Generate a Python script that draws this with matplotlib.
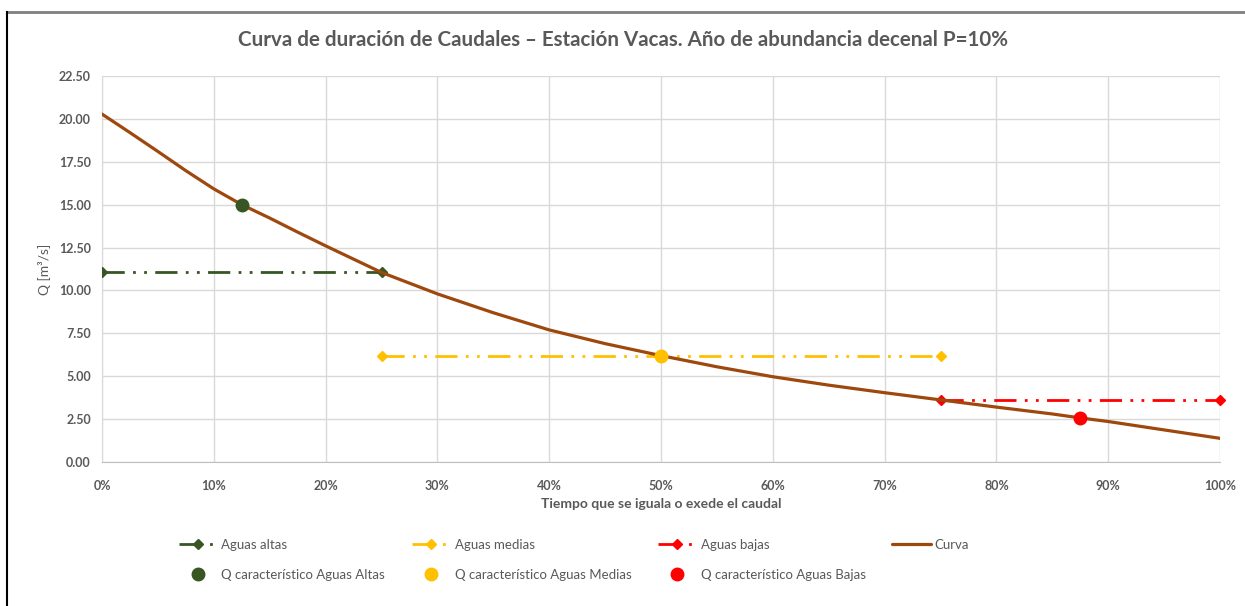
import matplotlib
matplotlib.use("Agg")
import matplotlib.pyplot as plt
from matplotlib.ticker import FuncFormatter, MultipleLocator
from matplotlib.legend_handler import HandlerLine2D
from matplotlib.lines import Line2D

plt.rcParams['font.family'] = ['Lato', 'DejaVu Sans']

# Data
curve_x = [0, 2.5, 5, 7.5, 10, 12.5, 15, 17.5, 20, 25, 30, 35, 40, 45, 50, 55, 60, 65, 70, 75, 80, 85, 87.5, 90, 95, 100]
curve_y = [20.28, 19.2, 18.1, 16.98, 15.92, 15.0, 14.22, 13.4, 12.6, 11.05, 9.8, 8.7, 7.7, 6.9, 6.2, 5.55, 4.97, 4.48, 4.04, 3.62, 3.2, 2.8, 2.57, 2.36, 1.87, 1.38]

altas_x = [0, 25]
altas_y = [11.05, 11.05]
medias_x = [25, 75]
medias_y = [6.15, 6.15]
bajas_x = [75, 100]
bajas_y = [3.6, 3.6]

qchar_x = [12.5, 50, 87.5]
qchar_y = [15.0, 6.15, 2.57]

title = "Curva de duración de Caudales – Estación Vacas. Año de abundancia decenal P=10%"
xlabel = "Tiempo que se iguala o exede el caudal"
ylabel = "Q [m³/s]"

c_green = "#375623"
c_gold = "#FFC000"
c_red = "#FF0000"
c_curve = "#9E480E"
gray = "#595959"

fig = plt.figure(figsize=(12.45, 6.06), dpi=100)
ax = fig.add_axes([102/1245, 1-462/606, (1220-102)/1245, (462-76)/606])

dash = (0, (8, 3, 1, 3, 1, 3))
ax.plot(altas_x, altas_y, color=c_green, lw=2, linestyle=dash, marker='D', ms=5, label='Aguas altas', zorder=3)
ax.plot(medias_x, medias_y, color=c_gold, lw=2, linestyle=dash, marker='D', ms=5, label='Aguas medias', zorder=3)
ax.plot(bajas_x, bajas_y, color=c_red, lw=2, linestyle=dash, marker='D', ms=5, label='Aguas bajas', zorder=3, clip_on=False)
ax.plot(curve_x, curve_y, color=c_curve, lw=2.3, label='Curva', zorder=4, solid_capstyle='round', solid_joinstyle='round')
p1, = ax.plot([qchar_x[0]], [qchar_y[0]], 'o', color=c_green, ms=9, label='Q característico Aguas Altas', zorder=5)
p2, = ax.plot([qchar_x[1]], [qchar_y[1]], 'o', color=c_gold, ms=9, label='Q característico Aguas Medias', zorder=5)
p3, = ax.plot([qchar_x[2]], [qchar_y[2]], 'o', color=c_red, ms=9, label='Q característico Aguas Bajas', zorder=5)

ax.set_xlim(0, 100)
ax.set_ylim(0, 22.5)
ax.xaxis.set_major_locator(MultipleLocator(10))
ax.yaxis.set_major_locator(MultipleLocator(2.5))
ax.xaxis.set_major_formatter(FuncFormatter(lambda v, p: f"{v:.0f}%"))
ax.yaxis.set_major_formatter(FuncFormatter(lambda v, p: f"{v:.2f}"))
ax.grid(True, color="#D9D9D9", lw=1)
ax.set_axisbelow(True)
for s in ['top', 'right']:
    ax.spines[s].set_visible(False)
ax.spines['left'].set_color("#D9D9D9")
ax.spines['bottom'].set_color("#BFBFBF")
ax.tick_params(length=0, labelsize=9, labelcolor=gray)
ax.tick_params(axis='x', pad=13)
ax.tick_params(axis='y', pad=8)
for lab in ax.get_xticklabels() + ax.get_yticklabels():
    lab.set_fontweight('bold')

ax.set_xlabel(xlabel, fontsize=10, fontweight='bold', color=gray, labelpad=4)
ax.set_ylabel(ylabel, fontsize=10, color=gray, labelpad=6)
fig.text(0.5, 1-40/606, title, ha='center', va='center', fontsize=14.8, fontweight='bold', color=gray)

handles, labels = ax.get_legend_handles_labels()
order = [0, 4, 1, 5, 2, 6, 3]
hm = {p1: HandlerLine2D(numpoints=1), p2: HandlerLine2D(numpoints=1), p3: HandlerLine2D(numpoints=1)}
leg = fig.legend([handles[i] for i in order], [labels[i] for i in order], ncol=4,
                 loc='center', bbox_to_anchor=(0.461, 1-560/606), frameon=False,
                 fontsize=9.5, labelcolor=gray, handler_map=hm, columnspacing=2.0,
                 handlelength=3, handletextpad=0.25, labelspacing=1.35)

# chart frame lines
fig.add_artist(Line2D([7/1245, 1], [1-12/606, 1-12/606], color="#7F7F7F", lw=2, transform=fig.transFigure))
fig.add_artist(Line2D([7/1245, 7/1245], [0, 1-12/606], color="black", lw=1.5, transform=fig.transFigure))

fig.savefig("out.png", dpi=100)
